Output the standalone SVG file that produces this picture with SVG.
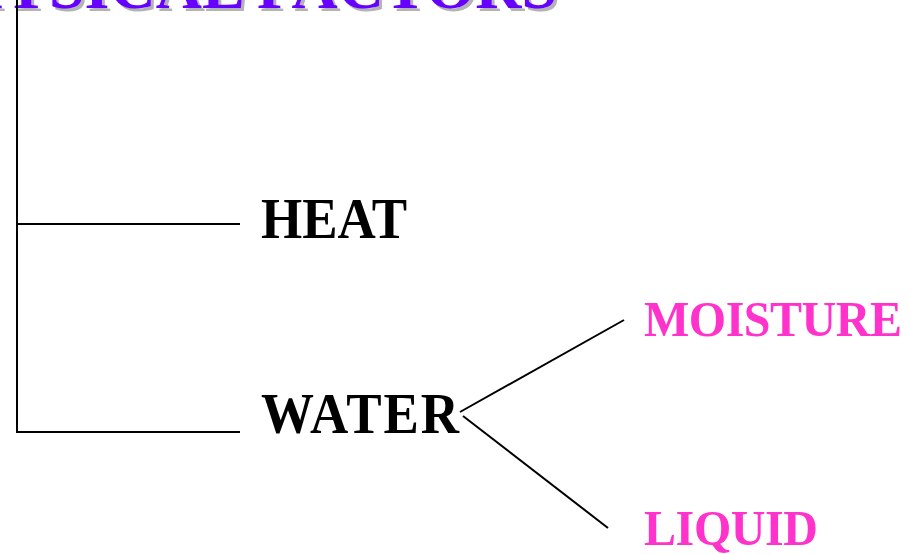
<svg xmlns="http://www.w3.org/2000/svg" width="911" height="555" viewBox="0 0 911 555">
<style>
.ln{stroke:#000;stroke-width:2;fill:none}
.lbl{font-family:"Liberation Serif","Times New Roman",serif;font-weight:bold}
.blk{fill:#000;font-size:53px}
.pink{fill:#ff33cc;font-size:48px}
.title{font-family:"Liberation Serif","Times New Roman",serif;font-weight:bold;font-size:64px}
</style>
<rect width="911" height="555" fill="#fff"/>
<g id="title">
<text class="title" x="560" y="11" text-anchor="end" fill="#b3b3b3">PHYSICAL FACTORS</text>
<text class="title" x="557" y="8" text-anchor="end" fill="#6600ff">PHYSICAL FACTORS</text>
</g>
<g id="connectors">
<path class="ln" d="M17,0 V432 H240"/>
<path class="ln" d="M17,224 H240"/>
<path class="ln" d="M460,412 L624,320"/>
<path class="ln" d="M463,416 L608,528"/>
</g>
<g id="heat"><text class="lbl blk" transform="translate(261,238) scale(1,1.07)" textLength="146">HEAT</text></g>
<g id="water"><text class="lbl blk" transform="translate(261,433) scale(1,1.07)" textLength="198">WATER</text></g>
<g id="moisture"><text class="lbl pink" transform="translate(644,336) scale(1,1.04)" textLength="258">MOISTURE</text></g>
<g id="liquid"><text class="lbl pink" transform="translate(644,545) scale(1,1.04)" textLength="174">LIQUID</text></g>
</svg>
